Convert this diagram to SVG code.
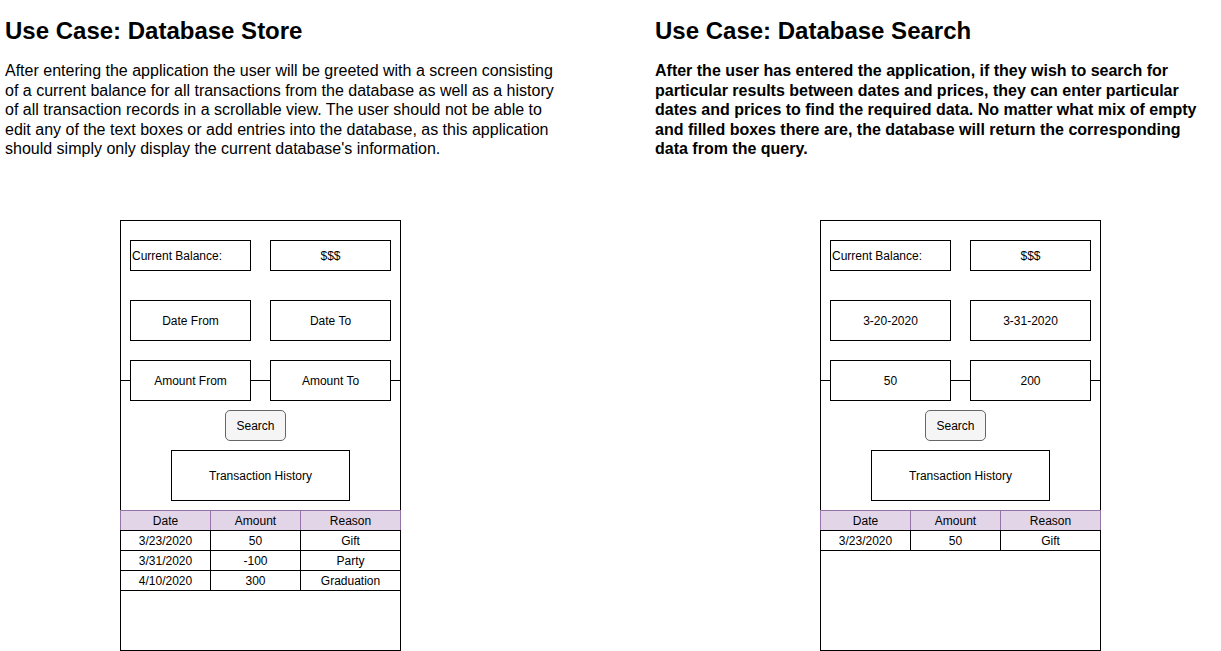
<svg xmlns="http://www.w3.org/2000/svg" width="1221" height="651" viewBox="0 0 1221 651">
<style>
text{font-family:"Liberation Sans",Arial,sans-serif;fill:#000}
.h{font-size:24px;font-weight:bold}
.p{font-size:16px}
.pb{font-size:16px;font-weight:bold}
.s{font-size:12px;text-anchor:middle}
.sl{font-size:12px}
.box{fill:#fff;stroke:#000;stroke-width:1}
.btn{fill:#f5f5f5;stroke:#666;stroke-width:1}
.hd{fill:#e1d5e7;stroke:#9673a6;stroke-width:1}
.ln{stroke:#000;stroke-width:1;fill:none}
</style>
<rect width="1221" height="651" fill="#fff"/>
<g id="texts">
<text class="h" x="5" y="39">Use Case: Database Store</text>
<text class="p" x="5" y="76">After entering the application the user will be greeted with a screen consisting</text>
<text class="p" x="5" y="95.5">of a current balance for all transactions from the database as well as a history</text>
<text class="p" x="5" y="115">of all transaction records in a scrollable view. The user should not be able to</text>
<text class="p" x="5" y="134.5">edit any of the text boxes or add entries into the database, as this application</text>
<text class="p" x="5" y="154">should simply only display the current database's information.</text>
<text class="h" x="655" y="39">Use Case: Database Search</text>
<text class="pb" x="655" y="76">After the user has entered the application, if they wish to search for</text>
<text class="pb" x="655" y="95.5">particular results between dates and prices, they can enter particular</text>
<text class="pb" x="655" y="115">dates and prices to find the required data. No matter what mix of empty</text>
<text class="pb" x="655" y="134.5">and filled boxes there are, the database will return the corresponding</text>
<text class="pb" x="655" y="154">data from the query.</text>
</g>
<g id="phone-store">
<rect class="box" x="120.5" y="220.5" width="280" height="430"/>
</g>
<g id="phone-search">
<rect class="box" x="820.5" y="220.5" width="280" height="430"/>
</g>
<g id="connectors">
<path class="ln" d="M120.5 380.5H130.5M250.5 380.5H270.5M390.5 380.5H400.5"/>
<path class="ln" d="M820.5 380.5H830.5M950.5 380.5H970.5M1090.5 380.5H1100.5"/>
</g>
<g id="store-balance-label"><rect class="box" x="130.5" y="240.5" width="120" height="30"/><text class="sl" x="132" y="260">Current Balance:</text></g>
<g id="store-balance-value"><rect class="box" x="270.5" y="240.5" width="120" height="30"/><text class="s" x="330.5" y="260">$$$</text></g>
<g id="store-date-from"><rect class="box" x="130.5" y="300.5" width="120" height="40"/><text class="s" x="190.5" y="325">Date From</text></g>
<g id="store-date-to"><rect class="box" x="270.5" y="300.5" width="120" height="40"/><text class="s" x="330.5" y="325">Date To</text></g>
<g id="store-amount-from"><rect class="box" x="130.5" y="360.5" width="120" height="40"/><text class="s" x="190.5" y="385">Amount From</text></g>
<g id="store-amount-to"><rect class="box" x="270.5" y="360.5" width="120" height="40"/><text class="s" x="330.5" y="385">Amount To</text></g>
<g id="store-search"><rect class="btn" x="225.5" y="410.5" width="60" height="30" rx="4.5"/><text class="s" x="255.5" y="430">Search</text></g>
<g id="store-history"><rect class="box" x="171.5" y="450.5" width="178" height="50"/><text class="s" x="260.5" y="480">Transaction History</text></g>
<g id="store-table">
<rect class="hd" x="120.5" y="510.5" width="90" height="20"/><rect class="hd" x="210.5" y="510.5" width="90" height="20"/><rect class="hd" x="300.5" y="510.5" width="100" height="20"/>
<text class="s" x="165.5" y="525">Date</text><text class="s" x="255.5" y="525">Amount</text><text class="s" x="350.5" y="525">Reason</text>
<rect class="box" x="120.5" y="530.5" width="90" height="20"/><rect class="box" x="210.5" y="530.5" width="90" height="20"/><rect class="box" x="300.5" y="530.5" width="100" height="20"/>
<text class="s" x="165.5" y="545">3/23/2020</text><text class="s" x="255.5" y="545">50</text><text class="s" x="350.5" y="545">Gift</text>
<rect class="box" x="120.5" y="550.5" width="90" height="20"/><rect class="box" x="210.5" y="550.5" width="90" height="20"/><rect class="box" x="300.5" y="550.5" width="100" height="20"/>
<text class="s" x="165.5" y="565">3/31/2020</text><text class="s" x="255.5" y="565">-100</text><text class="s" x="350.5" y="565">Party</text>
<rect class="box" x="120.5" y="570.5" width="90" height="20"/><rect class="box" x="210.5" y="570.5" width="90" height="20"/><rect class="box" x="300.5" y="570.5" width="100" height="20"/>
<text class="s" x="165.5" y="585">4/10/2020</text><text class="s" x="255.5" y="585">300</text><text class="s" x="350.5" y="585">Graduation</text>
</g>
<g id="search-balance-label"><rect class="box" x="830.5" y="240.5" width="120" height="30"/><text class="sl" x="832" y="260">Current Balance:</text></g>
<g id="search-balance-value"><rect class="box" x="970.5" y="240.5" width="120" height="30"/><text class="s" x="1030.5" y="260">$$$</text></g>
<g id="search-date-from"><rect class="box" x="830.5" y="300.5" width="120" height="40"/><text class="s" x="890.5" y="325">3-20-2020</text></g>
<g id="search-date-to"><rect class="box" x="970.5" y="300.5" width="120" height="40"/><text class="s" x="1030.5" y="325">3-31-2020</text></g>
<g id="search-amount-from"><rect class="box" x="830.5" y="360.5" width="120" height="40"/><text class="s" x="890.5" y="385">50</text></g>
<g id="search-amount-to"><rect class="box" x="970.5" y="360.5" width="120" height="40"/><text class="s" x="1030.5" y="385">200</text></g>
<g id="search-search"><rect class="btn" x="925.5" y="410.5" width="60" height="30" rx="4.5"/><text class="s" x="955.5" y="430">Search</text></g>
<g id="search-history"><rect class="box" x="871.5" y="450.5" width="178" height="50"/><text class="s" x="960.5" y="480">Transaction History</text></g>
<g id="search-table">
<rect class="hd" x="820.5" y="510.5" width="90" height="20"/><rect class="hd" x="910.5" y="510.5" width="90" height="20"/><rect class="hd" x="1000.5" y="510.5" width="100" height="20"/>
<text class="s" x="865.5" y="525">Date</text><text class="s" x="955.5" y="525">Amount</text><text class="s" x="1050.5" y="525">Reason</text>
<rect class="box" x="820.5" y="530.5" width="90" height="20"/><rect class="box" x="910.5" y="530.5" width="90" height="20"/><rect class="box" x="1000.5" y="530.5" width="100" height="20"/>
<text class="s" x="865.5" y="545">3/23/2020</text><text class="s" x="955.5" y="545">50</text><text class="s" x="1050.5" y="545">Gift</text>
</g>
</svg>
